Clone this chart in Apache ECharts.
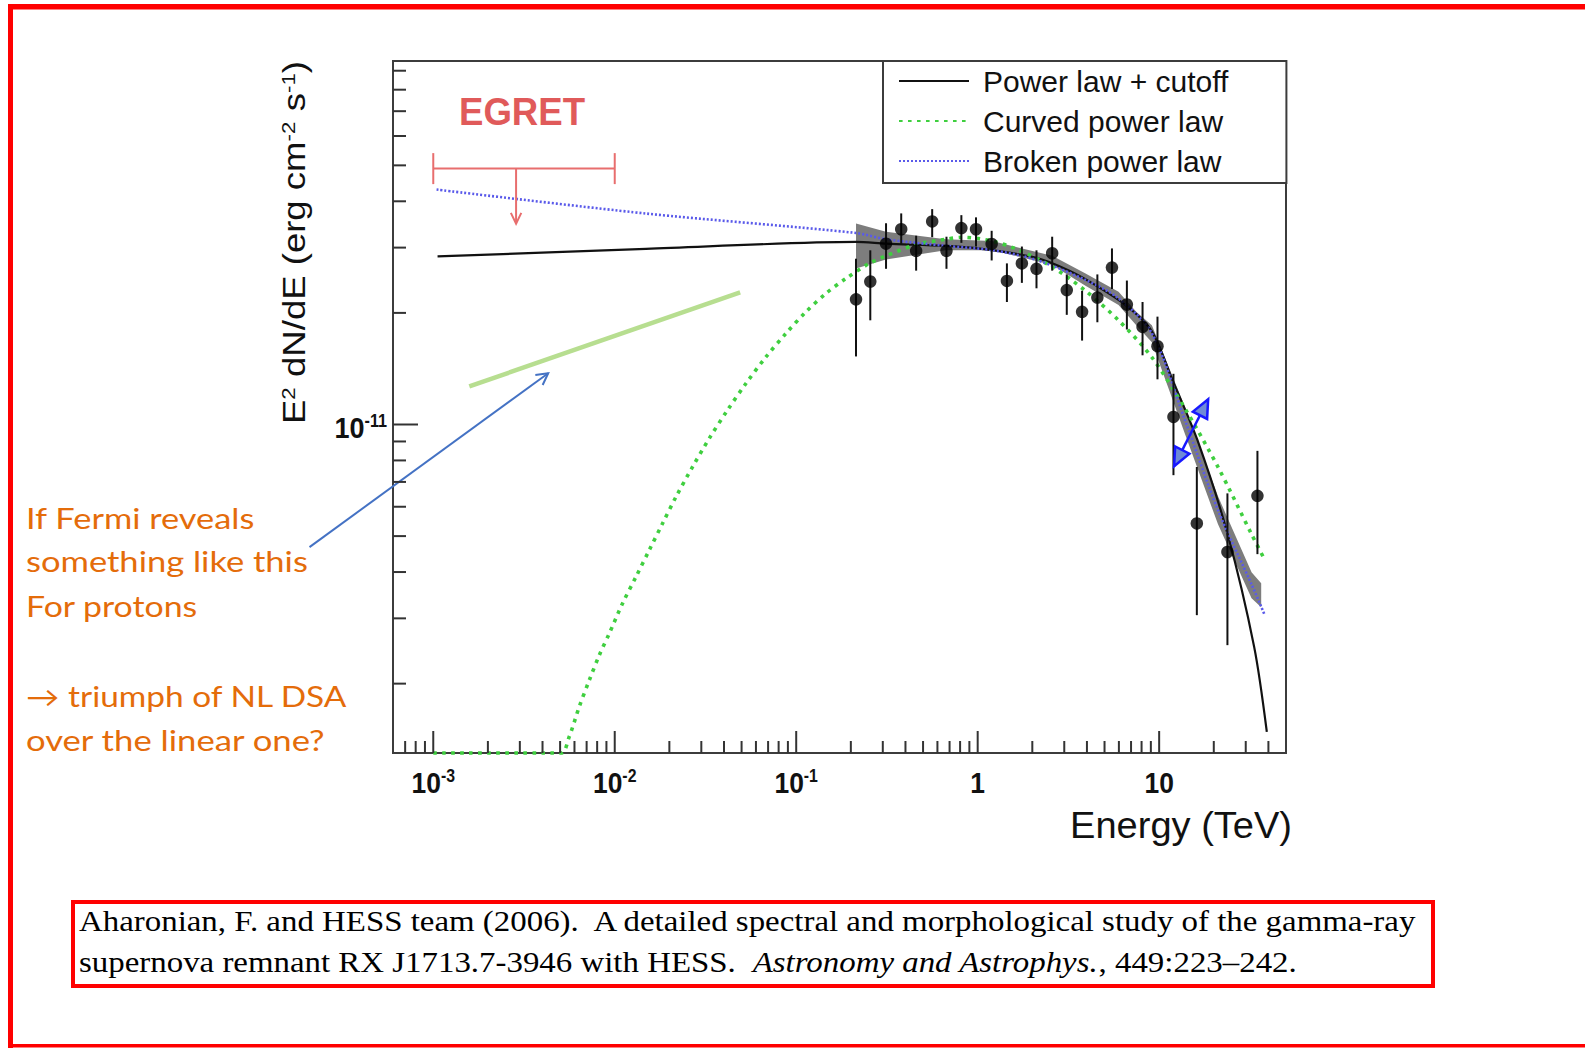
<!DOCTYPE html>
<html>
<head>
<meta charset="utf-8">
<title>RX J1713.7-3946 HESS spectrum</title>
<script src="https://cdn.jsdelivr.net/npm/echarts@6/dist/echarts.min.js"></script>
<style>
  html, body { margin: 0; padding: 0; background: #ffffff; }
  #chart { width: 1585px; height: 1048px; }
</style>
</head>
<body>
<div id="chart"></div>
<script>
// ---------------- axis ranges ----------------
const XMIN = 6e-4, XMAX = 50;          // Energy (TeV)
const YMIN = 1.3e-12, YMAX = 9.56e-11; // E^2 dN/dE (erg cm^-2 s^-1)

// ---------------- HESS flux points ----------------
const energyTeV = [0.2136, 0.256, 0.3126, 0.379, 0.458, 0.5614, 0.673, 0.813, 0.979, 1.194, 1.449, 1.752, 2.109,
                   2.573, 3.097, 3.761, 4.566, 5.495, 6.64, 8.10, 9.79, 11.99, 16.13, 23.78, 34.8];
const fluxE2 = [2.176e-11, 2.43e-11, 3.075e-11, 3.363e-11, 2.94e-11, 3.53e-11, 2.94e-11, 3.386e-11, 3.363e-11,
                3.07e-11, 2.44e-11, 2.72e-11, 2.63e-11, 2.897e-11, 2.305e-11, 2.013e-11, 2.20e-11, 2.65e-11,
                2.107e-11, 1.833e-11, 1.627e-11, 1.048e-11, 5.41e-12, 4.53e-12, 6.42e-12];
const fluxLow = [1.526e-11, 1.91e-11, 2.63e-11, 3.05e-11, 2.60e-11, 3.20e-11, 2.63e-11, 3.09e-11, 3.02e-11,
                 2.77e-11, 2.14e-11, 2.41e-11, 2.33e-11, 2.60e-11, 1.976e-11, 1.684e-11, 1.887e-11, 2.32e-11,
                 1.804e-11, 1.537e-11, 1.324e-11, 7.30e-12, 3.06e-12, 2.54e-12, 4.47e-12];
const fluxHigh = [2.80e-11, 2.95e-11, 3.49e-11, 3.71e-11, 3.23e-11, 3.81e-11, 3.21e-11, 3.67e-11, 3.62e-11,
                  3.33e-11, 2.72e-11, 3.02e-11, 2.95e-11, 3.21e-11, 2.54e-11, 2.295e-11, 2.54e-11, 2.985e-11,
                  2.445e-11, 2.14e-11, 1.954e-11, 1.37e-11, 7.68e-12, 6.52e-12, 8.49e-12];

// ---------------- fitted spectral shapes ----------------
const cutoffE = [1.056e-3, 0.01486, 0.2133, 0.3125, 0.6675, 1.0, 2.082, 3.177, 4.642, 6.784, 9.116, 11.84, 16.26, 23.78, 33.38, 39.2];
const cutoffF = [2.84e-11, 2.976e-11, 3.107e-11, 3.075e-11, 3.033e-11, 2.985e-11, 2.819e-11, 2.602e-11, 2.347e-11,
                 2.069e-11, 1.783e-11, 1.317e-11, 9.07e-12, 5.08e-12, 2.513e-12, 1.483e-12];

const curvedE = [1.0e-3, 5.05e-3, 5.61e-3, 6.37e-3, 7.24e-3, 8.22e-3, 9.33e-3, 1.104e-2, 1.309e-2, 1.549e-2, 1.834e-2,
                 2.174e-2, 2.684e-2, 3.317e-2, 4.18e-2, 5.283e-2, 6.81e-2, 8.775e-2, 0.1131, 0.1458, 0.1878, 0.2525,
                 0.3125, 0.4566, 0.6675, 0.8236, 1.203, 1.687, 2.573, 3.922, 5.974, 9.116, 13.91, 21.2, 32.3, 38.23];
const curvedF = [1.3e-12, 1.3e-12, 1.437e-12, 1.731e-12, 2.043e-12, 2.386e-12, 2.731e-12, 3.291e-12, 3.882e-12,
                 4.581e-12, 5.408e-12, 6.378e-12, 7.685e-12, 9.17e-12, 1.093e-11, 1.290e-11, 1.521e-11, 1.760e-11,
                 2.012e-11, 2.256e-11, 2.476e-11, 2.718e-11, 2.851e-11, 3.054e-11, 3.16e-11, 3.198e-11, 3.125e-11,
                 2.953e-11, 2.663e-11, 2.295e-11, 1.910e-11, 1.518e-11, 1.102e-11, 7.643e-12, 5.06e-12, 4.31e-12];

const brokenE = [1.043e-3, 0.01486, 0.2133, 0.3125, 0.6675, 1.2017, 2.073, 3.906, 5.95, 9.116, 13.88, 21.1, 32.35, 38.2];
const brokenF = [4.302e-11, 3.707e-11, 3.286e-11, 3.16e-11, 3.033e-11, 2.953e-11, 2.786e-11, 2.458e-11, 2.191e-11,
                 1.762e-11, 1.027e-11, 5.87e-12, 3.70e-12, 3.06e-12];

// confidence band of the fit
const bandE    = [0.2136, 0.3125, 0.6675, 1.203, 2.573, 3.906, 5.974, 7.5, 9.116, 13.88, 21.1, 32.3, 36.5];
const bandHigh = [3.484e-11, 3.309e-11, 3.16e-11, 3.125e-11, 2.851e-11, 2.56e-11, 2.28e-11, 2.01e-11, 1.852e-11,
                  1.114e-11, 6.40e-12, 3.996e-12, 3.73e-12];
const bandLow  = [2.634e-11, 2.786e-11, 2.953e-11, 2.953e-11, 2.693e-11, 2.37e-11, 2.10e-11, 1.85e-11, 1.667e-11,
                  9.42e-12, 5.38e-12, 3.401e-12, 3.215e-12];

// EGRET upper limit: [E from, E to, E of arrow, limit, arrow tip]
const egretLimit = [[1e-3, 1e-2, 2.86e-3, 4.90e-11, 3.48e-11]];

// hypothetical hard proton spectrum
const fermiE = [1.58e-3, 0.0491];
const fermiF = [1.267e-11, 2.271e-11];

// annotation arrows: [E tail, F tail, E head, F head]
const pointerArrow = [[2.08e-4, 4.67e-12, 4.30e-3, 1.375e-11]];
const doubleArrow  = [[12.09, 7.72e-12, 18.62, 1.170e-11]];

// ---------------- ticks ----------------
const xMajorTicks = [1e-3, 1e-2, 1e-1, 1, 10];
const xMinorTicks = [7e-4, 8e-4, 9e-4,
                     2e-3, 3e-3, 4e-3, 5e-3, 6e-3, 7e-3, 8e-3, 9e-3,
                     2e-2, 3e-2, 4e-2, 5e-2, 6e-2, 7e-2, 8e-2, 9e-2,
                     0.2, 0.3, 0.4, 0.5, 0.6, 0.7, 0.8, 0.9,
                     2, 3, 4, 5, 6, 7, 8, 9,
                     20, 30, 40];
const yMajorTicks = [1e-11];
const yMinorTicks = [2e-12, 3e-12, 4e-12, 5e-12, 6e-12, 7e-12, 8e-12, 9e-12,
                     2e-11, 3e-11, 4e-11, 5e-11, 6e-11, 7e-11, 8e-11, 9e-11];
const xTickLabels = ['10{s|-3}', '10{s|-2}', '10{s|-1}', '1', '10'];
const yTickLabels = ['10{s|-11}'];

// ---------------- text helpers ----------------
const SANS = 'Liberation Sans';
const SERIF = 'Liberation Serif';
const NOTE = 'Lato';
const mctx = document.createElement('canvas').getContext('2d');
function measure(parts) {
  let w = 0;
  for (const [t, f] of parts) { mctx.font = f; w += mctx.measureText(t).width; }
  return w;
}

// y title
const yTitleFont = 31, yTitleSup = 19;
const yTitleLen = measure([
  ['E', `${yTitleFont}px "${SANS}"`], ['2', `${yTitleSup}px "${SANS}"`],
  [' dN/dE (erg cm', `${yTitleFont}px "${SANS}"`], ['-2', `${yTitleSup}px "${SANS}"`],
  [' s', `${yTitleFont}px "${SANS}"`], ['-1', `${yTitleSup}px "${SANS}"`], [')', `${yTitleFont}px "${SANS}"`]
]);
const yTitleScale = 363 / yTitleLen;

// x title
const xTitleFont = 37;
const xTitleScale = 222 / measure([['Energy (TeV)', `${xTitleFont}px "${SANS}"`]]);

// EGRET label
const egretFont = 39;
const egretScale = 126 / measure([['EGRET', `bold ${egretFont}px "${SANS}"`]]);

// side note
const noteFont = 28;
const noteLines = ['If Fermi reveals', 'something like this', 'For protons', '\u2192 triumph of NL DSA', 'over the linear one?'];
const noteY = [518, 561.5, 606.5, 696.5, 740];
const noteWidth = [229, 282, 172, 322, 300];
const noteScale = noteLines.map((t, i) => noteWidth[i] / measure([[t, `${noteFont}px "${NOTE}"`]]));

// reference lines
const citeFont = 30;
const cite1 = 'Aharonian, F. and HESS team (2006).  A detailed spectral and morphological study of the gamma-ray';
const citeScale = 1341 / measure([[cite1, `${citeFont}px "${SERIF}"`]]);

// ---------------- chart ----------------
const chart = echarts.init(document.getElementById('chart'), null, { renderer: 'svg' });

const tickColor = '#333333';
const labelRich = { s: { fontSize: 18, fontWeight: 'bold', fontFamily: SANS, fill: '#111', verticalAlign: 'top' } };

function arrowHeadOpen(x, y, ang, len, spread) {
  return [
    [x - len * Math.cos(ang - spread), y - len * Math.sin(ang - spread)],
    [x, y],
    [x - len * Math.cos(ang + spread), y - len * Math.sin(ang + spread)]
  ];
}
function arrowHeadTri(x, y, ang, len, half) {
  const bx = x - len * Math.cos(ang), by = y - len * Math.sin(ang);
  const nx = -Math.sin(ang), ny = Math.cos(ang);
  return [[x, y], [bx + nx * half, by + ny * half], [bx - nx * half, by - ny * half]];
}

const option = {
  backgroundColor: '#ffffff',
  animation: false,
  grid: {
    left: 393, top: 61, width: 893, height: 692,
    show: true, borderColor: '#3c3c3c', borderWidth: 2, backgroundColor: '#ffffff'
  },
  xAxis: {
    type: 'log', logBase: 10, min: XMIN, max: XMAX,
    axisLine: { show: false }, axisTick: { show: false }, axisLabel: { show: false }, splitLine: { show: false }
  },
  yAxis: {
    type: 'log', logBase: 10, min: YMIN, max: YMAX,
    axisLine: { show: false }, axisTick: { show: false }, axisLabel: { show: false }, splitLine: { show: false }
  },
  legend: {
    left: 883, top: 61, orient: 'vertical',
    padding: [5, 58, 7, 15],
    itemWidth: 70, itemHeight: 14, itemGap: 10,
    borderColor: '#3c3c3c', borderWidth: 2, backgroundColor: '#ffffff',
    selectedMode: false,
    itemStyle: { opacity: 0 },
    textStyle: { fontFamily: SANS, fontSize: 30, lineHeight: 30, color: '#111', padding: [0, 0, 0, 9] },
    data: ['Power law + cutoff', 'Curved power law', 'Broken power law']
  },
  graphic: {
    elements: [
      // slide frame
      { type: 'rect', silent: true, shape: { x: 8, y: 4, width: 1577, height: 5.5 }, style: { fill: '#ff0000' } },
      { type: 'rect', silent: true, shape: { x: 8, y: 4, width: 5, height: 1044 }, style: { fill: '#ff0000' } },
      { type: 'rect', silent: true, shape: { x: 8, y: 1044, width: 1577, height: 3.5 }, style: { fill: '#ff0000' } },
      // reference box
      { type: 'rect', silent: true, shape: { x: 73, y: 902, width: 1360, height: 84 },
        style: { fill: 'none', stroke: '#ff0000', lineWidth: 4 } },
      { type: 'text', silent: true, x: 79, y: 921, scaleX: citeScale,
        style: { text: cite1, fontFamily: SERIF, fontSize: citeFont, fill: '#000', align: 'left', verticalAlign: 'middle' } },
      { type: 'text', silent: true, x: 79, y: 962, scaleX: citeScale,
        style: {
          text: '{n|supernova remnant RX J1713.7-3946 with HESS.  }{i|Astronomy and Astrophys.}{n|, 449:223\u2013242.}',
          fontFamily: SERIF, fontSize: citeFont, fill: '#000', align: 'left', verticalAlign: 'middle',
          rich: {
            n: { fontFamily: SERIF, fontSize: citeFont, fill: '#000' },
            i: { fontFamily: SERIF, fontSize: citeFont, fontStyle: 'italic', fill: '#000' }
          }
        } },
      // side note
      ...noteLines.map((t, i) => ({
        type: 'text', silent: true, x: 26, y: noteY[i], scaleX: noteScale[i],
        style: { text: t, fontFamily: NOTE, fontSize: noteFont, fill: '#e46c0a', align: 'left', verticalAlign: 'middle' }
      })),
      // EGRET label
      { type: 'text', silent: true, x: 459, y: 112, scaleX: egretScale,
        style: { text: 'EGRET', fontFamily: SANS, fontWeight: 'bold', fontSize: egretFont, fill: '#e05a5a',
                 align: 'left', verticalAlign: 'middle' } },
      // axis titles
      { type: 'text', silent: true, x: 1292, y: 825, scaleX: xTitleScale,
        style: { text: 'Energy (TeV)', fontFamily: SANS, fontSize: xTitleFont, fill: '#111', align: 'right', verticalAlign: 'middle' } },
      { type: 'text', silent: true, x: 294, y: 242.5, rotation: Math.PI / 2, scaleX: yTitleScale,
        style: {
          text: 'E{s|2} dN/dE (erg cm{s|-2} s{s|-1})',
          fontFamily: SANS, fontSize: yTitleFont, fill: '#111', align: 'center', verticalAlign: 'middle',
          rich: { s: { fontFamily: SANS, fontSize: yTitleSup, fill: '#111', verticalAlign: 'top' } }
        } }
    ]
  },
  series: [
    {
      name: 'fit band', type: 'custom', coordinateSystem: 'cartesian2d', silent: true, z: 1,
      data: bandE.map((e, i) => [e, bandLow[i], bandHigh[i]]),
      encode: { x: 0, y: [1, 2] },
      renderItem: (params, api) => {
        if (params.dataIndex !== 0) return null;
        const upper = bandE.map((e, i) => api.coord([e, bandHigh[i]]));
        const lower = bandE.map((e, i) => api.coord([e, bandLow[i]])).reverse();
        return { type: 'polygon', shape: { points: upper.concat(lower) }, style: { fill: '#7d7d7d' } };
      }
    },
    {
      name: 'Power law + cutoff', type: 'line', z: 3, clip: false, symbol: 'none', smooth: 0.3,
      data: cutoffE.map((e, i) => [e, cutoffF[i]]),
      lineStyle: { color: '#111111', width: 2.2 },
      itemStyle: { color: '#111111' }
    },
    {
      name: 'Curved power law', type: 'line', z: 3, clip: false, symbol: 'none', smooth: 0.3,
      data: curvedE.map((e, i) => [e, curvedF[i]]),
      lineStyle: { color: '#3fcf3f', width: 3.6, type: [3.6, 5.4], cap: 'butt' },
      itemStyle: { color: '#3fcf3f' }
    },
    {
      name: 'Broken power law', type: 'line', z: 3, clip: false, symbol: 'none', smooth: 0.3,
      data: brokenE.map((e, i) => [e, brokenF[i]]),
      lineStyle: { color: '#5a5aea', width: 2.6, type: [2, 2] },
      itemStyle: { color: '#5a5aea' }
    },
    {
      name: 'proton hint', type: 'line', z: 3, clip: false, symbol: 'none', silent: true,
      data: fermiE.map((e, i) => [e, fermiF[i]]),
      lineStyle: { color: '#b7de90', width: 4.5 }
    },
    {
      name: 'error bars', type: 'custom', coordinateSystem: 'cartesian2d', silent: true, z: 4,
      data: energyTeV.map((e, i) => [e, fluxLow[i], fluxHigh[i]]),
      encode: { x: 0, y: [1, 2] },
      renderItem: (params, api) => {
        const lo = api.coord([api.value(0), api.value(1)]);
        const hi = api.coord([api.value(0), api.value(2)]);
        return { type: 'line', shape: { x1: lo[0], y1: lo[1], x2: hi[0], y2: hi[1] },
                 style: { stroke: '#111111', lineWidth: 2 } };
      }
    },
    {
      name: 'HESS', type: 'scatter', z: 5, symbol: 'circle', symbolSize: 12.5, silent: true,
      data: energyTeV.map((e, i) => [e, fluxE2[i]]),
      itemStyle: { color: '#000000' }
    },
    {
      name: 'EGRET', type: 'custom', coordinateSystem: 'cartesian2d', silent: true, z: 5,
      data: egretLimit, encode: { x: [0, 1, 2], y: [3, 4] },
      renderItem: (params, api) => {
        const a = api.coord([api.value(0), api.value(3)]);
        const b = api.coord([api.value(1), api.value(3)]);
        const c = api.coord([api.value(2), api.value(3)]);
        const t = api.coord([api.value(2), api.value(4)]);
        const st = { stroke: '#e86e6e', lineWidth: 2, fill: 'none' };
        return { type: 'group', children: [
          { type: 'line', shape: { x1: a[0], y1: a[1], x2: b[0], y2: b[1] }, style: st },
          { type: 'line', shape: { x1: a[0], y1: a[1] - 15.5, x2: a[0], y2: a[1] + 15.5 }, style: st },
          { type: 'line', shape: { x1: b[0], y1: b[1] - 15.5, x2: b[0], y2: b[1] + 15.5 }, style: st },
          { type: 'line', shape: { x1: c[0], y1: c[1], x2: t[0], y2: t[1] }, style: st },
          { type: 'polyline', shape: { points: arrowHeadOpen(t[0], t[1], Math.PI / 2, 12, 0.45) }, style: st }
        ] };
      }
    },
    {
      name: 'pointer', type: 'custom', coordinateSystem: 'cartesian2d', silent: true, z: 6,
      data: pointerArrow, encode: { x: [0, 2], y: [1, 3] },
      renderItem: (params, api) => {
        const p0 = api.coord([api.value(0), api.value(1)]);
        const p1 = api.coord([api.value(2), api.value(3)]);
        const ang = Math.atan2(p1[1] - p0[1], p1[0] - p0[0]);
        const st = { stroke: '#4472c4', lineWidth: 2, fill: 'none' };
        return { type: 'group', children: [
          { type: 'line', shape: { x1: p0[0], y1: p0[1], x2: p1[0], y2: p1[1] }, style: st },
          { type: 'polyline', shape: { points: arrowHeadOpen(p1[0], p1[1], ang, 13, 0.5) }, style: st }
        ] };
      }
    },
    {
      name: 'shift', type: 'custom', coordinateSystem: 'cartesian2d', silent: true, z: 6,
      data: doubleArrow, encode: { x: [0, 2], y: [1, 3] },
      renderItem: (params, api) => {
        const p0 = api.coord([api.value(0), api.value(1)]);
        const p1 = api.coord([api.value(2), api.value(3)]);
        const ang = Math.atan2(p1[1] - p0[1], p1[0] - p0[0]);
        const st = { stroke: '#1818ff', lineWidth: 2.5, fill: '#6f8ad6' };
        return { type: 'group', children: [
          { type: 'line', shape: { x1: p0[0], y1: p0[1], x2: p1[0], y2: p1[1] }, style: { stroke: '#1818ff', lineWidth: 2.5 } },
          { type: 'polygon', shape: { points: arrowHeadTri(p1[0], p1[1], ang, 18, 8) }, style: st },
          { type: 'polygon', shape: { points: arrowHeadTri(p0[0], p0[1], ang + Math.PI, 18, 8) }, style: st }
        ] };
      }
    },
    {
      name: 'x ticks', type: 'custom', coordinateSystem: 'cartesian2d', silent: true, z: 7,
      data: xMajorTicks.map(v => [v, YMIN, 1]).concat(xMinorTicks.map(v => [v, YMIN, 0])),
      encode: { x: 0, y: 1 },
      renderItem: (params, api) => {
        const p = api.coord([api.value(0), api.value(1)]);
        const len = api.value(2) ? 22 : 12;
        return { type: 'line', shape: { x1: p[0], y1: p[1], x2: p[0], y2: p[1] - len },
                 style: { stroke: tickColor, lineWidth: 2 } };
      }
    },
    {
      name: 'y ticks', type: 'custom', coordinateSystem: 'cartesian2d', silent: true, z: 7,
      data: yMajorTicks.map(v => [XMIN, v, 1]).concat(yMinorTicks.map(v => [XMIN, v, 0])),
      encode: { x: 0, y: 1 },
      renderItem: (params, api) => {
        const p = api.coord([api.value(0), api.value(1)]);
        const len = api.value(2) ? 25 : 13;
        return { type: 'line', shape: { x1: p[0], y1: p[1], x2: p[0] + len, y2: p[1] },
                 style: { stroke: tickColor, lineWidth: 2 } };
      }
    },
    {
      name: 'x labels', type: 'custom', coordinateSystem: 'cartesian2d', silent: true, z: 7,
      data: xMajorTicks.map(v => [v, YMIN]), encode: { x: 0, y: 1 },
      renderItem: (params, api) => {
        const p = api.coord([api.value(0), api.value(1)]);
        return { type: 'text', x: p[0], y: p[1] + 29, scaleX: 0.88,
                 style: { text: xTickLabels[params.dataIndex], fontFamily: SANS, fontWeight: 'bold', fontSize: 30,
                          fill: '#111', align: 'center', verticalAlign: 'middle', rich: labelRich } };
      }
    },
    {
      name: 'y labels', type: 'custom', coordinateSystem: 'cartesian2d', silent: true, z: 7,
      data: yMajorTicks.map(v => [XMIN, v]), encode: { x: 0, y: 1 },
      renderItem: (params, api) => {
        const p = api.coord([api.value(0), api.value(1)]);
        return { type: 'text', x: p[0] - 6, y: p[1] + 3, scaleX: 0.9,
                 style: { text: yTickLabels[params.dataIndex], fontFamily: SANS, fontWeight: 'bold', fontSize: 30,
                          fill: '#111', align: 'right', verticalAlign: 'middle', rich: labelRich } };
      }
    }
  ]
};

chart.setOption(option);
</script>
</body>
</html>
